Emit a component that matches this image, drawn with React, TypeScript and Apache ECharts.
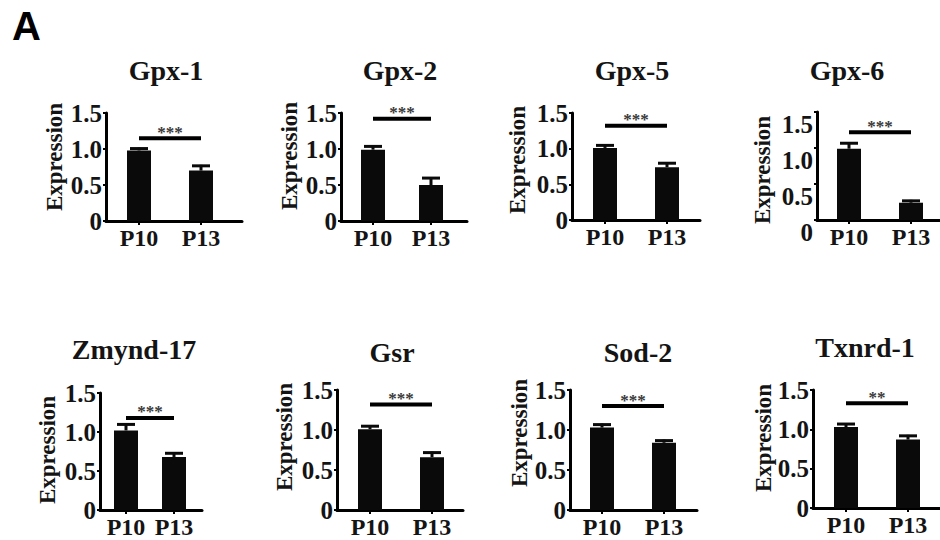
import React, { useEffect, useRef } from 'react';
import * as echarts from 'echarts';

// ---------- data ----------
const genes = ['Gpx-1', 'Gpx-2', 'Gpx-5', 'Gpx-6', 'Zmynd-17', 'Gsr', 'Sod-2', 'Txnrd-1'];
const ages = ['P10', 'P13'];
const p10Mean = [0.98, 0.99, 1.01, 0.99, 1.02, 1.01, 1.03, 1.03];
const p13Mean = [0.70, 0.50, 0.74, 0.24, 0.68, 0.66, 0.84, 0.87];
const p10Err = [0.04, 0.06, 0.05, 0.09, 0.09, 0.05, 0.05, 0.05];
const p13Err = [0.08, 0.11, 0.07, 0.04, 0.06, 0.07, 0.04, 0.06];
const sigHeight = [1.15, 1.42, 1.32, 1.22, 1.18, 1.32, 1.30, 1.33];
const sigMarks = ['***', '***', '***', '***', '***', '***', '***', '**'];
const yTickValues = [0, 0.5, 1.0, 1.5];
const yTickLabels = ['0', '0.5', '1.0', '1.5'];
const yName = 'Expression';
const panelLetter = 'A';

// ---------- layout (pixels) ----------
const layout = [
  { axisX: 106, axisEnd: 242, top: 113, bottom: 221, c1: 139, c2: 201, titleX: 166, titleY: 70, nameX: 54, nameY: 157, lowLabels: false },
  { axisX: 341, axisEnd: 467, top: 113, bottom: 221, c1: 373, c2: 431, titleX: 400, titleY: 70, nameX: 289, nameY: 156, lowLabels: false },
  { axisX: 572, axisEnd: 700, top: 113, bottom: 220, c1: 605, c2: 667, titleX: 632, titleY: 70, nameX: 517, nameY: 160, lowLabels: false },
  { axisX: 817, axisEnd: 940, top: 112, bottom: 220, c1: 849, c2: 911, titleX: 847, titleY: 70, nameX: 762, nameY: 170, lowLabels: true },
  { axisX: 100, axisEnd: 202, top: 393, bottom: 510, c1: 126, c2: 174, titleX: 134, titleY: 349, nameX: 47, nameY: 450, lowLabels: false },
  { axisX: 337, axisEnd: 463, top: 390, bottom: 510, c1: 370, c2: 432, titleX: 392, titleY: 352, nameX: 284, nameY: 437, lowLabels: false },
  { axisX: 570, axisEnd: 697, top: 390, bottom: 510, c1: 602, c2: 664, titleX: 638, titleY: 352, nameX: 519, nameY: 433, lowLabels: false },
  { axisX: 813, axisEnd: 940, top: 390, bottom: 508, c1: 846, c2: 908, titleX: 865, titleY: 347, nameX: 763, nameY: 438, lowLabels: false },
];

const SERIF = 'Liberation Serif';
const INK = '#141414';
const BAR = '#0a0a0a';

function buildOption() {
  const grid: any[] = [];
  const xAxis: any[] = [];
  const yAxis: any[] = [];
  const series: any[] = [];
  const graphic: any[] = [];

  graphic.push({
    type: 'text',
    x: 12,
    y: 6,
    style: { text: panelLetter, fontFamily: 'Liberation Sans', fontWeight: 'bold', fontSize: 40, fill: '#000', textAlign: 'left', textVerticalAlign: 'top' },
  });

  genes.forEach((g, i) => {
    const L = layout[i];
    const span = L.c2 - L.c1;
    grid.push({ left: L.axisX, top: L.top, width: L.axisEnd - L.axisX, height: L.bottom - L.top, containLabel: false });
    xAxis.push({
      type: 'value',
      gridIndex: i,
      min: (L.axisX - L.c1) / span,
      max: 1 + (L.axisEnd - L.c2) / span,
      splitLine: { show: false },
      axisLine: { show: true, onZero: false, lineStyle: { color: '#000', width: 3 } },
      axisTick: { show: true, customValues: [0, 1], length: 4, lineStyle: { color: '#000', width: 2 } },
      axisLabel: {
        customValues: [0, 1],
        formatter: (v: number) => ages[Math.round(v)],
        margin: 5,
        color: INK,
        fontFamily: SERIF,
        fontWeight: 'bold',
        fontSize: 24,
      },
    });
    yAxis.push({
      type: 'value',
      gridIndex: i,
      min: 0,
      max: 1.5,
      interval: 0.5,
      splitLine: { show: false },
      axisLine: { show: true, onZero: false, lineStyle: { color: '#000', width: 3 } },
      axisTick: { show: true, length: 3, lineStyle: { color: '#000', width: 2 } },
      axisLabel: {
        formatter: (v: number) => {
          const k = yTickValues.findIndex((t) => Math.abs(t - v) < 1e-6);
          return k >= 0 ? yTickLabels[k] : '';
        },
        margin: 4,
        color: INK,
        fontFamily: SERIF,
        fontWeight: 'bold',
        fontSize: 25,
        verticalAlign: L.lowLabels ? 'top' : 'middle',
      },
    });

    series.push({
      type: 'bar',
      xAxisIndex: i,
      yAxisIndex: i,
      barWidth: 24,
      itemStyle: { color: BAR },
      data: [[0, p10Mean[i]], [1, p13Mean[i]]],
      z: 2,
    });

    series.push({
      type: 'custom',
      xAxisIndex: i,
      yAxisIndex: i,
      z: 3,
      data: [[0, p10Mean[i], p10Err[i]], [1, p13Mean[i], p13Err[i]]],
      renderItem: (params: any, api: any) => {
        const x = api.value(0);
        const m = api.value(1);
        const e = api.value(2);
        const a = api.coord([x, m]);
        const b = api.coord([x, m + e]);
        const half = 9;
        return {
          type: 'group',
          children: [
            { type: 'line', shape: { x1: a[0], y1: a[1], x2: b[0], y2: b[1] }, style: { stroke: BAR, lineWidth: 3 } },
            { type: 'line', shape: { x1: b[0] - half, y1: b[1] + 1, x2: b[0] + half, y2: b[1] + 1 }, style: { stroke: BAR, lineWidth: 3 } },
          ],
        };
      },
    });

    series.push({
      type: 'custom',
      xAxisIndex: i,
      yAxisIndex: i,
      z: 3,
      data: [[0, 1, sigHeight[i]]],
      renderItem: (params: any, api: any) => {
        const p = api.coord([api.value(0), api.value(2)]);
        const q = api.coord([api.value(1), api.value(2)]);
        return {
          type: 'group',
          children: [
            { type: 'line', shape: { x1: p[0], y1: p[1], x2: q[0], y2: q[1] }, style: { stroke: '#000', lineWidth: 4 } },
            {
              type: 'text',
              x: (p[0] + q[0]) / 2,
              y: p[1] - 6,
              style: { text: sigMarks[i], fontFamily: SERIF, fontWeight: 'bold', fontSize: 17, fill: '#3a3a3a', textAlign: 'center', textVerticalAlign: 'middle' },
            },
          ],
        };
      },
    });

    graphic.push({
      type: 'text',
      x: L.titleX,
      y: L.titleY,
      style: { text: g, fontFamily: SERIF, fontWeight: 'bold', fontSize: 28, fill: INK, textAlign: 'center', textVerticalAlign: 'middle' },
    });
    graphic.push({
      type: 'text',
      x: L.nameX,
      y: L.nameY,
      rotation: Math.PI / 2,
      style: { text: yName, fontFamily: SERIF, fontWeight: 'bold', fontSize: 23, fill: INK, textAlign: 'center', textVerticalAlign: 'middle' },
    });
  });

  return {
    animation: false,
    backgroundColor: '#ffffff',
    grid,
    xAxis,
    yAxis,
    series,
    graphic,
  };
}

export default function App() {
  const ref = useRef<HTMLDivElement>(null);
  useEffect(() => {
    if (!ref.current) return;
    const chart = echarts.init(ref.current, undefined, { renderer: 'svg' });
    chart.setOption(buildOption() as any);
    return () => chart.dispose();
  }, []);
  return <div ref={ref} style={{ position: 'absolute', left: 0, top: 0, width: 940, height: 540, background: '#fff' }} />;
}
